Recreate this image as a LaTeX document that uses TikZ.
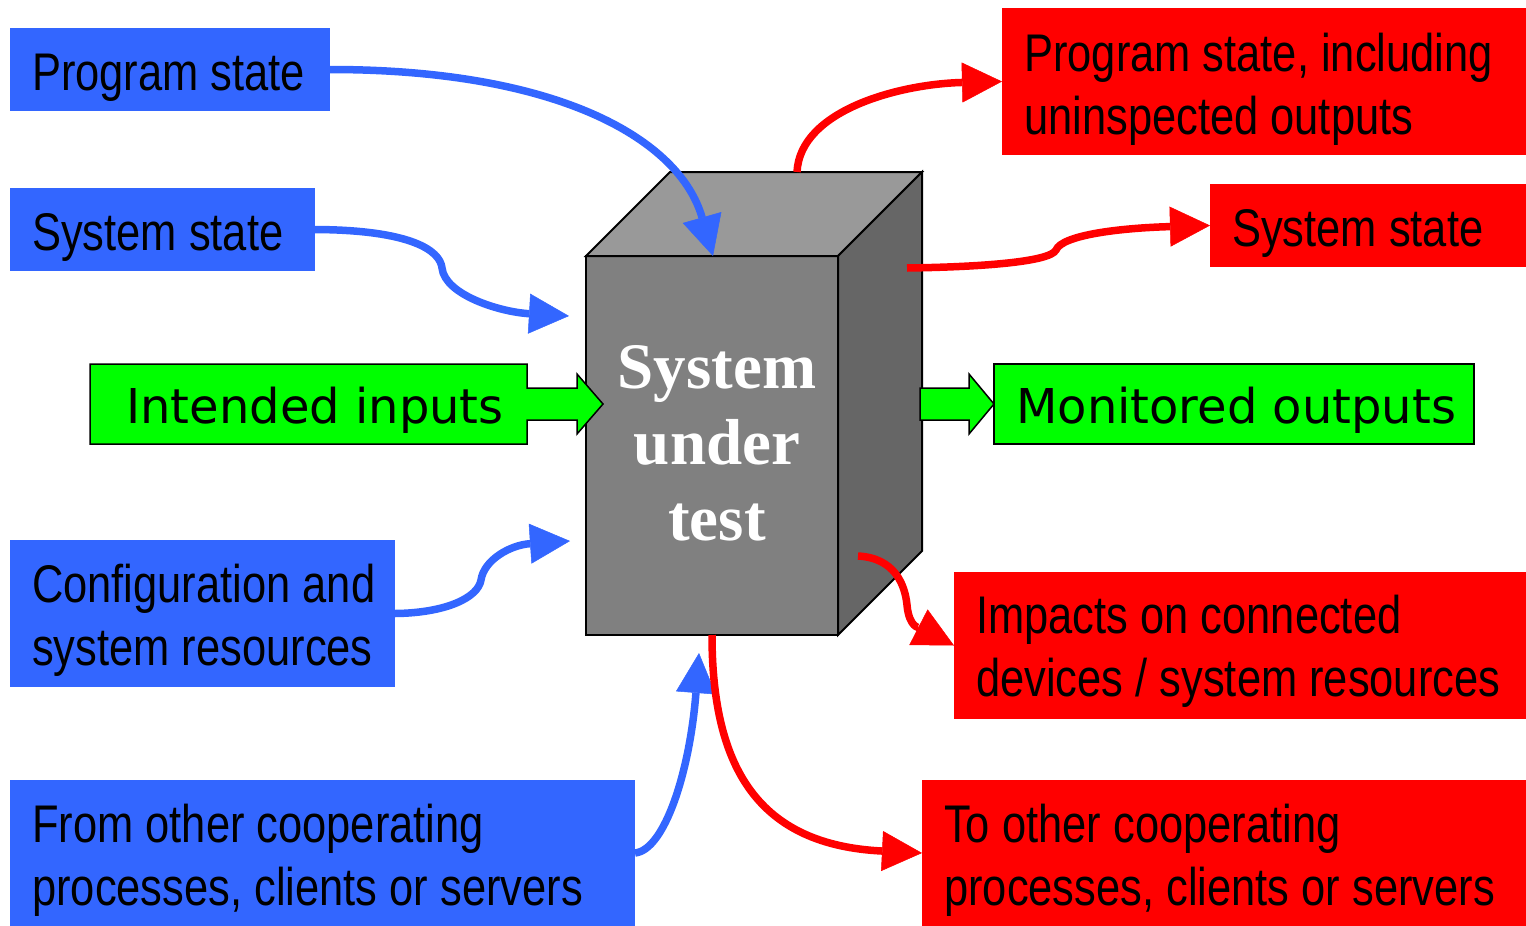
\documentclass[tikz,border=0pt]{standalone}
\usepackage{fontspec}
\usetikzlibrary{arrows.meta}
\newfontfamily\narrowfont[FakeStretch=0.82]{Liberation Sans}
\newfontfamily\greenfont{DejaVu Sans}
\newfontfamily\sutfont{Liberation Serif}
\definecolor{bblue}{HTML}{3366FF}
\definecolor{rred}{HTML}{FF0000}
\definecolor{ggreen}{HTML}{00FF00}
\definecolor{cubetop}{HTML}{999999}
\definecolor{cubefront}{HTML}{808080}
\definecolor{cubeside}{HTML}{666666}
\begin{document}
\begin{tikzpicture}[x=1pt,y=-1pt,
  box/.style={rectangle, inner sep=0pt, outer sep=0pt, anchor=north west, draw=none},
  bluebox/.style={box, fill=bblue},
  redbox/.style={box, fill=rred},
  lbl/.style={anchor=base west, inner sep=0pt, font=\narrowfont\fontsize{53}{63}\selectfont},
  glbl/.style={anchor=base west, inner sep=0pt, font=\greenfont\fontsize{48}{58}\selectfont},
  sut/.style={anchor=base, inner sep=0pt, text=white, font=\sutfont\bfseries\fontsize{65}{76}\selectfont},
  head/.tip={Triangle[length=40pt,width=40pt,line width=0.5pt]},
  bluearrow/.style={draw=bblue, line width=7.5pt, -head},
  redarrow/.style={draw=rred, line width=7.5pt, -head},
  greenshape/.style={fill=ggreen, draw=black, line width=1.5pt, line join=miter},
  cubeface/.style={draw=black, line width=2pt, line join=miter}
]
\useasboundingbox (0,0) rectangle (1526,926);

% ---- boxes ----
\node[bluebox, minimum width=320pt, minimum height=83pt] (ps) at (10,28) {};
\node[bluebox, minimum width=305pt, minimum height=83pt] (ss) at (10,188) {};
\node[bluebox, minimum width=385pt, minimum height=147pt] (cfg) at (10,540) {};
\node[bluebox, minimum width=625pt, minimum height=146pt] (from) at (10,780) {};
\node[redbox, minimum width=524pt, minimum height=147pt] (pi) at (1002,8) {};
\node[redbox, minimum width=316pt, minimum height=83pt] (rs) at (1210,184) {};
\node[redbox, minimum width=572pt, minimum height=147pt] (im) at (954,572) {};
\node[redbox, minimum width=604pt, minimum height=146pt] (to) at (922,780) {};

% ---- labels ----
\node[lbl] (psl) at (32,90) {Program state};
\node[lbl] (ssl) at (32,250) {System state};
\node[lbl] (cfgl1) at (32,602) {Configuration and};
\node[lbl] (cfgl2) at (32,665) {system resources};
\node[lbl] (froml1) at (32,842) {From other cooperating};
\node[lbl] (froml2) at (32,905) {processes, clients or servers};
\node[lbl] (pil1) at (1024,71) {Program state, including};
\node[lbl] (pil2) at (1024,134) {uninspected outputs};
\node[lbl] (rsl) at (1232,246) {System state};
\node[lbl] (iml1) at (976,633) {Impacts on connected};
\node[lbl] (iml2) at (976,696) {devices / system resources};
\node[lbl] (tol1) at (944,842) {To other cooperating};
\node[lbl] (tol2) at (944,905) {processes, clients or servers};

% ---- cube ----
\node[rectangle, inner sep=0pt, outer sep=0pt, fill=cubefront, draw=black, line width=2pt,
      minimum width=252pt, minimum height=379pt, anchor=north west] (front) at (586,256) {};
\filldraw[cubeface, fill=cubetop] (front.north west) -- ++(84,-84) -- ++(252,0) -- (front.north east) -- cycle;
\filldraw[cubeface, fill=cubeside] (front.north east) -- ++(84,-84) -- ++(0,379) -- (front.south east) -- cycle;
\node[sut] (sut1) at (717,388) {System};
\node[sut] (sut2) at (717,464) {under};
\node[sut] (sut3) at (717,540) {test};

% ---- green block arrows ----
\node[box, minimum width=437pt, minimum height=80pt] (ii) at (90,364) {};
\filldraw[greenshape] (ii.north west) -- (ii.north east) -- (527,388) -- (577,388) -- (577,374)
  -- (603,404) -- (577,434) -- (577,420) -- (527,420) -- (ii.south east) -- (ii.south west) -- cycle;
\node[glbl] (iil) at (126,423) {Intended inputs};
\node[box, fill=ggreen, draw=black, line width=1.5pt, minimum width=480pt, minimum height=80pt] (mo) at (994,364) {};
\filldraw[greenshape] (920,388) -- (969,388) -- (969,374) -- (mo.west) -- (969,434) -- (969,420) -- (920,420) -- cycle;
\node[glbl] (mol) at (1016,423) {Monitored outputs};

% ---- connector end points ----
\coordinate (psin) at (713,256);
\coordinate (ssin) at (569,316);
\coordinate (cfgin) at (570,541);
\coordinate (fromin) at (699,653);
\coordinate (piout) at (797,172);
\coordinate (rsout) at (907,268);
\coordinate (imout) at (858,556);
\coordinate (toout) at (712,635);

% ---- blue arrows ----
\draw[bluearrow] (ps.east) .. controls (560,69.5) and (680,140) .. (psin);
\draw[bluearrow] (ss.east) .. controls (410,230) and (440,250) .. (442,268)
  .. controls (445,295) and (500,312) .. (ssin);
\draw[bluearrow] (cfg.east) .. controls (445,613) and (478,598) .. (481,580)
  .. controls (484,560) and (510,545) .. (cfgin);
\draw[bluearrow] (from.east) .. controls (665,850) and (690,770) .. (fromin);

% ---- red arrows ----
\draw[redarrow] (piout) .. controls (800,110) and (900,84) .. (pi.west);
\draw[redarrow] (rsout) .. controls (980,267) and (1050,262) .. (1056,250)
  .. controls (1062,235) and (1120,228) .. (rs.west);
\draw[redarrow] (imout) .. controls (895,558) and (905,585) .. (907,605)
  .. controls (909,628) and (920,628) .. (im.west);
\draw[redarrow] (toout) .. controls (712,770) and (760,845) .. (to.west);
\end{tikzpicture}
\end{document}
